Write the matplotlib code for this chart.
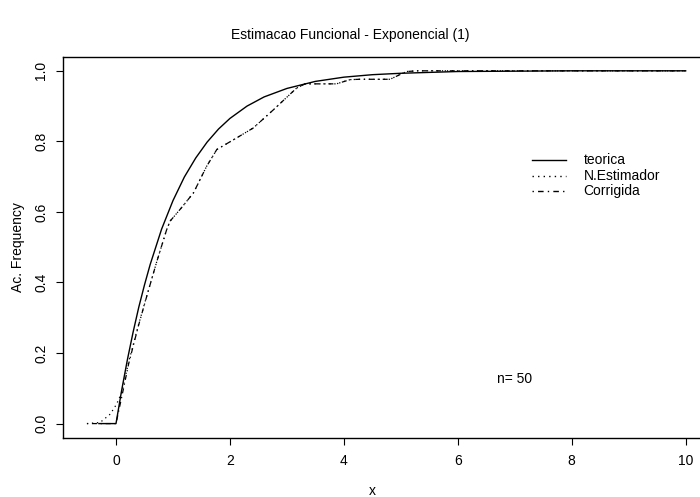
import matplotlib
matplotlib.use("Agg")
import matplotlib.pyplot as plt

plt.rcParams['font.family'] = ['Liberation Sans', 'DejaVu Sans']

# Theoretical curve (teorica)
teo_x = [-0.3, 0.0, 0.1, 0.2, 0.3, 0.4, 0.5, 0.6, 0.8, 1.0, 1.2, 1.4, 1.6, 1.8,
         2.0, 2.3, 2.6, 3.0, 3.5, 4.0, 4.5, 5.0, 6.0, 7.0, 8.0, 10.0]
teo_y = [0.0, 0.0, 0.095, 0.181, 0.259, 0.330, 0.393, 0.451, 0.551, 0.632, 0.699,
         0.753, 0.798, 0.835, 0.865, 0.900, 0.926, 0.950, 0.970, 0.982, 0.989,
         0.993, 0.998, 0.999, 1.0, 1.0]

# N.Estimador
est_x = [-0.51, -0.28, -0.1, 0.01, 0.1, 0.22, 0.39, 0.54, 0.71, 0.89, 0.95, 1.15,
         1.36, 1.59, 1.77, 2.12, 2.41, 2.76, 3.17, 3.32, 3.87, 4.11, 4.28, 4.81,
         5.1, 5.3, 10.0]
est_y = [0.0, 0.003, 0.027, 0.055, 0.088, 0.173, 0.277, 0.362, 0.456, 0.55, 0.574,
         0.612, 0.654, 0.729, 0.777, 0.81, 0.838, 0.889, 0.951, 0.963, 0.963, 0.975,
         0.976, 0.976, 0.998, 1.0, 1.0]

# Corrigida
cor_x = [-0.51, 0.0, 0.1, 0.22, 0.39, 0.54, 0.71, 0.89, 0.95, 1.15, 1.36, 1.59,
         1.77, 2.12, 2.41, 2.76, 3.17, 3.32, 3.87, 4.11, 4.28, 4.81, 5.1, 5.3, 10.0]
cor_y = [0.0, 0.0, 0.075, 0.168, 0.275, 0.361, 0.456, 0.55, 0.574, 0.612, 0.654,
         0.729, 0.777, 0.81, 0.838, 0.889, 0.951, 0.963, 0.963, 0.975, 0.976,
         0.976, 0.998, 1.0, 1.0]

legend_labels = ["teorica", "N.Estimador", "Corrigida"]
x_ticks = [0, 2, 4, 6, 8, 10]
y_ticks = [0.0, 0.2, 0.4, 0.6, 0.8, 1.0]

W, H = 700, 497
fig = plt.figure(figsize=(W / 100, H / 100), dpi=100)
left, right, top, bottom = 63.3, 709.6, 56.7, 437.7
ax = fig.add_axes([left / W, 1 - bottom / H, (right - left) / W, (bottom - top) / H])

ax.plot(teo_x, teo_y, color='black', lw=1.0, linestyle='-')
ax.plot(est_x, est_y, color='black', lw=0.9, linestyle=(0, (1, 3)))
ax.plot(cor_x, cor_y, color='black', lw=0.9, linestyle=(0, (1, 3, 4, 3)))

ax.set_xlim(-0.925, 10.42)
ax.set_ylim(-0.04, 1.04)
ax.set_xticks(x_ticks)
ax.set_xticklabels([str(v) for v in x_ticks])
ax.set_yticks(y_ticks)
ax.set_yticklabels([f"{v:.1f}" for v in y_ticks], rotation=90, va='center')
ax.tick_params(axis='both', length=5, width=0.8, labelsize=10, color='black')
ax.tick_params(axis='x', pad=7)
ax.tick_params(axis='y', pad=6)
for s in ax.spines.values():
    s.set_linewidth(1.0)
    s.set_color('black')

# legend drawn manually
leg_y = [0.748, 0.703, 0.658]
styles = ['-', (0, (1, 3)), (0, (1, 3, 4, 3))]
for yy, lab, st in zip(leg_y, legend_labels, styles):
    ax.plot([7.30, 7.90], [yy, yy], color='black', lw=1.0, linestyle=st)
    ax.text(8.21, yy, lab, fontsize=10, va='center', ha='left')

ax.text(6.68, 0.127, "n= 50", fontsize=10, va='center', ha='left')

fig.text(350 / W, 1 - 39.5 / H, "Estimacao Funcional - Exponencial (1)",
         fontsize=10, ha='center', va='baseline')
fig.text(372 / W, 1 - 491 / H, "x", fontsize=10, ha='center', va='center')
fig.text(18 / W, 1 - 247 / H, "Ac. Frequency", fontsize=10, ha='center', va='center',
         rotation=90)

fig.savefig("out.png", dpi=100)
